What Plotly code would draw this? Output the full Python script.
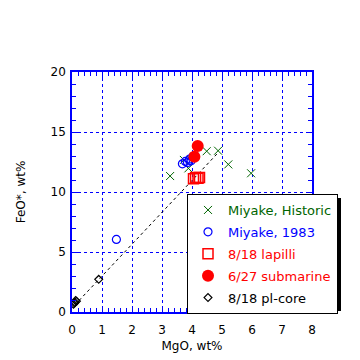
import plotly.graph_objects as go

# ---- data ----
hist_mgo = [3.27, 3.73, 3.88, 4.49, 4.87, 5.21, 5.97]
hist_feo = [11.33, 12.67, 11.97, 13.40, 13.44, 12.30, 11.56]

m83_mgo = [1.48, 3.68, 3.78, 3.85, 3.92, 3.97, 4.03]
m83_feo = [6.05, 12.35, 12.55, 12.45, 12.75, 12.60, 12.95]

lap_mgo = [4.05, 4.12, 4.20, 4.25]
lap_feo = [11.10, 11.20, 11.15, 11.20]

sub_mgo = [4.08, 4.19]
sub_feo = [12.94, 13.83]

pl_mgo = [0.89, 0.05, 0.08, 0.10, 0.12, 0.15]
pl_feo = [2.72, 0.65, 0.75, 0.80, 0.95, 0.90]

mix_mgo = [0.10, 4.88]
mix_feo = [0.60, 13.30]

font = "DejaVu Sans"
GREEN = "#006400"
BLUE = "#0000ff"
RED = "#ff0000"

# page has an 8px body margin; figure is offset accordingly
OFF = 8
L, T, R, B = 72 - OFF, 72 - OFF, 48, 48
W, H = 360 - OFF, 360 - OFF


def px(xp):
    return (xp - 72) / 240


def py(yp):
    return (312 - yp) / 240


fig = go.Figure()

fig.add_trace(go.Scatter(x=mix_mgo, y=mix_feo, mode="lines",
                         line=dict(color="black", width=1, dash="dot"),
                         showlegend=False, hoverinfo="skip"))

fig.add_trace(go.Scatter(x=hist_mgo, y=hist_feo, mode="markers",
                         name=f"<span style='color:{GREEN}'>Miyake, Historic</span>",
                         legendgroup="a",
                         marker=dict(symbol="x-thin-open", size=8, color=GREEN,
                                     line=dict(color=GREEN, width=1))))
fig.add_trace(go.Scatter(x=m83_mgo, y=m83_feo, mode="markers",
                         name=f"<span style='color:{BLUE}'>Miyake, 1983</span>",
                         legendgroup="b",
                         marker=dict(symbol="circle-open", size=8, color=BLUE,
                                     line=dict(color=BLUE, width=1.2))))
fig.add_trace(go.Scatter(x=lap_mgo, y=lap_feo, mode="markers",
                         name=f"<span style='color:{RED}'>8/18 lapilli</span>",
                         legendgroup="c",
                         marker=dict(symbol="square-open", size=10, color=RED,
                                     line=dict(color=RED, width=1.5))))
fig.add_trace(go.Scatter(x=sub_mgo, y=sub_feo, mode="markers",
                         name=f"<span style='color:{RED}'>6/27 submarine</span>",
                         legendgroup="d",
                         marker=dict(symbol="circle", size=12, color=RED)))
fig.add_trace(go.Scatter(x=pl_mgo, y=pl_feo, mode="markers",
                         name="<span style='color:black'>8/18 pl-core</span>",
                         legendgroup="e",
                         marker=dict(symbol="diamond-open", size=6, color="black",
                                     line=dict(color="black", width=1.2))))

# legend shadow
fig.add_shape(type="rect", xref="paper", yref="paper",
              x0=px(191), x1=px(341), y0=py(311), y1=py(198),
              fillcolor="black", line=dict(width=0), layer="above")

axis_common = dict(
    showline=True, linecolor=BLUE, linewidth=1.5, mirror="ticks",
    ticks="inside", tickcolor=BLUE, ticklen=6, tickwidth=1,
    showgrid=True, gridcolor=BLUE, griddash="dot", gridwidth=1,
    zeroline=False, automargin=False,
    tickfont=dict(family=font, size=12, color="black"),
)

fig.update_xaxes(range=[0, 8], dtick=1, tick0=0, ticklabelstandoff=6,
                 minor=dict(dtick=0.2, ticks="inside", ticklen=4, tickcolor=BLUE, showgrid=False),
                 title=dict(text="MgO, wt%", font=dict(family=font, size=12, color="black"), standoff=5),
                 **axis_common)
fig.update_yaxes(range=[0, 20], dtick=5, tick0=0, ticklabelstandoff=2,
                 minor=dict(dtick=1, ticks="inside", ticklen=4, tickcolor=BLUE, showgrid=False),
                 title=dict(text="FeO*, wt%", font=dict(family=font, size=12, color="black"), standoff=22),
                 **axis_common)

fig.update_layout(
    width=W, height=H,
    margin=dict(l=L, r=R, t=T, b=B),
    paper_bgcolor="white", plot_bgcolor="white",
    font=dict(family=font, size=12, color="black"),
    legend=dict(x=px(187), y=py(194), xanchor="left", yanchor="top",
                bgcolor="white", bordercolor="black", borderwidth=1,
                traceorder="grouped", tracegroupgap=2,
                font=dict(family=font, size=13)),
)

fig.write_html("out.html")
